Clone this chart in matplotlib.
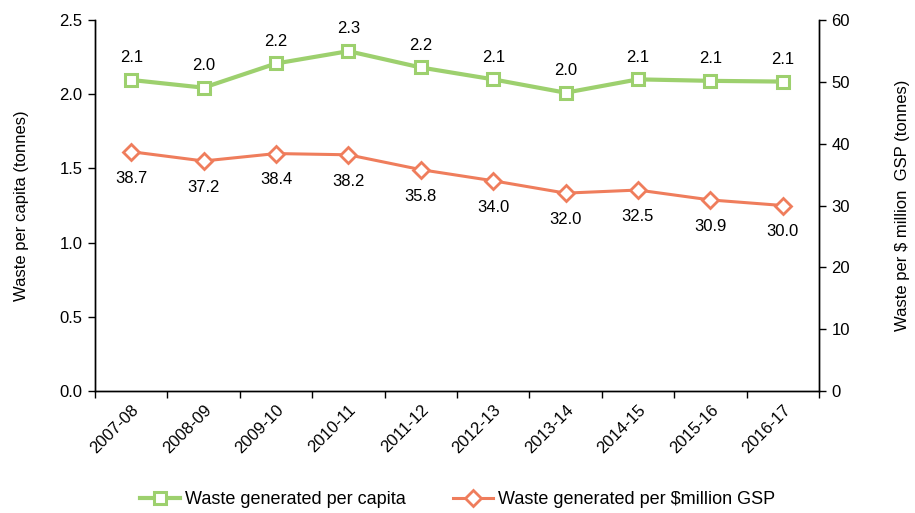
import matplotlib
matplotlib.use("Agg")
import matplotlib.pyplot as plt

plt.rcParams['font.family'] = ['Liberation Sans', 'DejaVu Sans']

years = ["2007-08", "2008-09", "2009-10", "2010-11", "2011-12",
         "2012-13", "2013-14", "2014-15", "2015-16", "2016-17"]
per_capita = [2.096, 2.044, 2.207, 2.29, 2.18, 2.10, 2.01, 2.10, 2.09, 2.085]
per_gsp = [38.7, 37.2, 38.4, 38.2, 35.8, 34.0, 32.0, 32.5, 30.9, 30.0]

green = "#9DD06E"
orange = "#EF7D5C"
fs = 12

fig = plt.figure(figsize=(9.15, 5.13), dpi=100)
ax = fig.add_axes([95/915, 1-391/513, (819-95)/915, (391-20)/513])
ax2 = ax.twinx()

x = list(range(len(years)))
l1, = ax.plot(x, per_capita, color=green, lw=3, marker='s', ms=9,
              mfc='white', mec=green, mew=2.2, zorder=3,
              label="Waste generated per capita")
l2, = ax2.plot(x, per_gsp, color=orange, lw=2.2, marker='D', ms=8,
               mfc='white', mec=orange, mew=2, zorder=3,
               label="Waste generated per \\$million GSP")

for xi, v in zip(x, per_capita):
    ax.annotate(f"{v:.1f}", (xi, v), xytext=(0, 16), textcoords='offset points',
                ha='center', va='center', fontsize=fs)
for xi, v in zip(x, per_gsp):
    ax2.annotate(f"{v:.1f}", (xi, v), xytext=(0, -19), textcoords='offset points',
                 ha='center', va='center', fontsize=fs)

ax.set_xlim(-0.5, len(years) - 0.5)
ax.set_ylim(0, 2.5)
ax2.set_ylim(0, 60)
ax.set_yticks([0, 0.5, 1.0, 1.5, 2.0, 2.5])
ax.set_yticklabels([f"{t:.1f}" for t in [0, 0.5, 1.0, 1.5, 2.0, 2.5]], fontsize=fs)
ax2.set_yticks([0, 10, 20, 30, 40, 50, 60])
ax2.set_yticklabels([str(t) for t in [0, 10, 20, 30, 40, 50, 60]], fontsize=fs)

ax.set_xticks([i - 0.5 for i in range(len(years) + 1)])
ax.set_xticklabels([])
ax.set_xticks(x, minor=True)
ax.set_xticklabels(years, minor=True, rotation=45, ha='right',
                   rotation_mode='anchor', fontsize=fs)
ax.tick_params(axis='x', which='minor', length=0, pad=8)
ax.tick_params(axis='x', which='major', length=5, direction='out', width=1)
ax.tick_params(axis='y', length=5, width=1, direction='out', pad=4)
ax2.tick_params(axis='y', length=5, width=1, direction='out', pad=4)

for a in (ax, ax2):
    a.spines['top'].set_visible(False)
    for s in ('left', 'right', 'bottom'):
        a.spines[s].set_linewidth(1)
        a.spines[s].set_color('black')

ax.set_ylabel("Waste per capita (tonnes)", fontsize=fs, labelpad=22)
ax2.set_ylabel("Waste per \\$ million  GSP (tonnes)", fontsize=fs, labelpad=32)

fig.legend(handles=[l1, l2], loc='center', bbox_to_anchor=(0.5, 1-500/513),
           ncol=2, frameon=False, fontsize=13, handlelength=2.2,
           columnspacing=2.6, handletextpad=0.3)

fig.savefig("out.png", dpi=100)
